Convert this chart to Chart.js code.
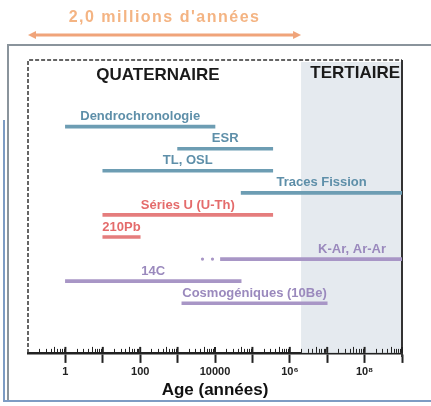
<!DOCTYPE html>
<html lang="fr">
    <head>
        <meta charset="utf-8">
        <script src="https://cdn.jsdelivr.net/npm/chart.js"></script>
        <style>
            body { margin: 0; background: #fff; }
            #wrap { width: 431px; height: 406px; }
        </style>
    </head>
    <body>
        <div id="wrap"><canvas id="myChart" width="431" height="406"></canvas></div>
        <script>
            // méthodes de datation, de haut en bas
            const methods = ["Dendrochronologie", "ESR", "TL, OSL", "Traces Fission",
                "Séries U (U-Th)", "210Pb", "K-Ar, Ar-Ar", "14C", "Cosmogéniques (10Be)"]
            const ageMin = [1, 1000, 10, 50000, 10, 10, 14000, 1, 1300]
            const ageMax = [10000, 350000, 350000, 1e9, 350000, 100, 1e9, 50000, 1e7]
            const group = ["blue", "blue", "blue", "blue", "red", "red", "purple", "purple", "purple"]
            const decades = [1, 10, 100, 1000, 1e4, 1e5, 1e6, 1e7, 1e8, 1e9]
            const tickLabels = { 1: "1", 100: "100", 10000: "10000", 1000000: "10⁶", 100000000: "10⁸" }
            const quaternaryEnd = 2e6

            const lineColors = { blue: "#6d9db3", red: "#e57d7d", purple: "#a896c6" }
            const textColors = { blue: "#5e8fa9", red: "#e46b6b", purple: "#9a89bd" }
            const font = "'Liberation Sans', Arial, sans-serif"

            const decor = {
                id: "decor",
                beforeDatasetsDraw(chart) {
                    const c = chart.ctx
                    const a = chart.chartArea
                    const x = chart.scales.x
                    const xq = x.getPixelForValue(quaternaryEnd)
                    c.save()
                    // zone tertiaire
                    c.fillStyle = "#e5eaef"
                    c.fillRect(xq, a.top + 2, a.right - xq, a.bottom - a.top - 2)
                    // cadre extérieur
                    c.strokeStyle = "#8a949c"
                    c.lineWidth = 2
                    c.beginPath()
                    c.moveTo(8, 400); c.lineTo(8, 45); c.lineTo(431, 45)
                    c.stroke()
                    c.strokeStyle = "#7d9cc4"
                    c.beginPath()
                    c.moveTo(4, 120); c.lineTo(4, 401); c.lineTo(431, 401)
                    c.stroke()
                    // cadre intérieur
                    c.strokeStyle = "#333"
                    c.lineWidth = 1.5
                    c.setLineDash([4, 2])
                    c.beginPath()
                    c.moveTo(a.left, a.bottom); c.lineTo(a.left, a.top); c.lineTo(a.right, a.top)
                    c.stroke()
                    c.setLineDash([])
                    c.lineWidth = 2
                    c.beginPath()
                    c.moveTo(a.right, a.top); c.lineTo(a.right, a.bottom + 4)
                    c.stroke()
                    // flèche 2,0 millions d'années
                    const ay = 35
                    c.strokeStyle = "#f0a47a"
                    c.fillStyle = "#f0a47a"
                    c.lineWidth = 3
                    c.beginPath()
                    c.moveTo(a.left + 4, ay); c.lineTo(xq - 4, ay)
                    c.stroke()
                    c.beginPath()
                    c.moveTo(a.left, ay); c.lineTo(a.left + 8, ay - 4); c.lineTo(a.left + 8, ay + 4); c.fill()
                    c.beginPath()
                    c.moveTo(xq, ay); c.lineTo(xq - 8, ay - 4); c.lineTo(xq - 8, ay + 4); c.fill()
                    c.fillStyle = "#f4b483"
                    c.font = "bold 16px " + font
                    c.letterSpacing = "1.5px"
                    c.textAlign = "center"
                    c.textBaseline = "middle"
                    c.fillText("2,0 millions d'années", (a.left + xq) / 2, 18)
                    c.letterSpacing = "0px"
                    // ères
                    c.fillStyle = "#1a1a1a"
                    c.font = "bold 17px " + font
                    c.fillText("QUATERNAIRE", 158, a.top + 15)
                    c.textAlign = "right"
                    c.fillText("TERTIAIRE", a.right - 2, a.top + 13)
                    c.restore()
                },
                afterDatasetsDraw(chart) {
                    const c = chart.ctx
                    const a = chart.chartArea
                    const x = chart.scales.x
                    const meta = chart.getDatasetMeta(0)
                    c.save()
                    c.font = "bold 13px " + font
                    c.textBaseline = "middle"
                    meta.data.forEach((bar, i) => {
                        const lo = Math.min(bar.x, bar.base)
                        const hi = Math.max(bar.x, bar.base)
                        c.fillStyle = textColors[group[i]]
                        if (methods[i].startsWith("K-Ar")) {
                            c.textAlign = "right"
                            c.fillText(methods[i], Math.min(hi, a.right) - 16, bar.y - 10)
                            c.fillStyle = lineColors[group[i]]
                            ;[8, 18].forEach((d) => {
                                c.beginPath(); c.arc(lo - d, bar.y, 1.6, 0, 7); c.fill()
                            })
                        } else {
                            c.textAlign = "center"
                            c.fillText(methods[i], (lo + hi) / 2, bar.y - 10)
                        }
                    })
                    // petites graduations
                    c.strokeStyle = "#222"
                    c.lineWidth = 1
                    const yb = a.bottom
                    decades.slice(0, -1).concat([0.1]).forEach((d) => {
                        for (let k = 2; k < 10; k++) {
                            const px = Math.round(x.getPixelForValue(d * k)) + 0.5
                            c.beginPath(); c.moveTo(px, yb); c.lineTo(px, yb - (k === 5 ? 6 : 4)); c.stroke()
                        }
                    })
                    decades.forEach((d) => {
                        const px = x.getPixelForValue(d)
                        c.lineWidth = 2
                        c.beginPath(); c.moveTo(px, yb); c.lineTo(px, yb - 6); c.stroke()
                    })
                    c.restore()
                },
            }

            new Chart(document.getElementById("myChart"), {
                type: "bar",
                data: {
                    datasets: [
                        {
                            data: methods.map((m, i) => ({ x: [ageMin[i], ageMax[i]], y: i })),
                            backgroundColor: group.map((g) => lineColors[g]),
                            barThickness: 3,
                            borderSkipped: false,
                        },
                    ],
                },
                options: {
                    indexAxis: "y",
                    responsive: false,
                    animation: false,
                    layout: { padding: { left: 28, right: 29, top: 60, bottom: 5.5 } },
                    plugins: { legend: { display: false }, tooltip: { enabled: false } },
                    scales: {
                        y: {
                            type: "linear",
                            reverse: true,
                            min: -2.07,
                            max: 9.3,
                            display: false,
                        },
                        x: {
                            type: "logarithmic",
                            min: 0.1,
                            max: 1e9,
                            afterBuildTicks: (scale) => {
                                scale.ticks = decades.map((v) => ({ value: v }))
                            },
                            grid: { drawOnChartArea: false, tickLength: 10, tickWidth: 2, tickColor: "#222" },
                            border: { display: true, color: "#222", width: 2.5 },
                            ticks: {
                                autoSkip: false,
                                maxRotation: 0,
                                padding: 2,
                                color: "#222",
                                font: { family: font, size: 11, weight: "bold" },
                                callback: (v) => tickLabels[v] || "",
                            },
                            title: {
                                display: true,
                                text: "Age (années)",
                                color: "#111",
                                font: { family: font, size: 17, weight: "bold" },
                                padding: { top: 0, bottom: 0 },
                            },
                        },
                    },
                },
                plugins: [decor],
            })
        </script>
    </body>
</html>
